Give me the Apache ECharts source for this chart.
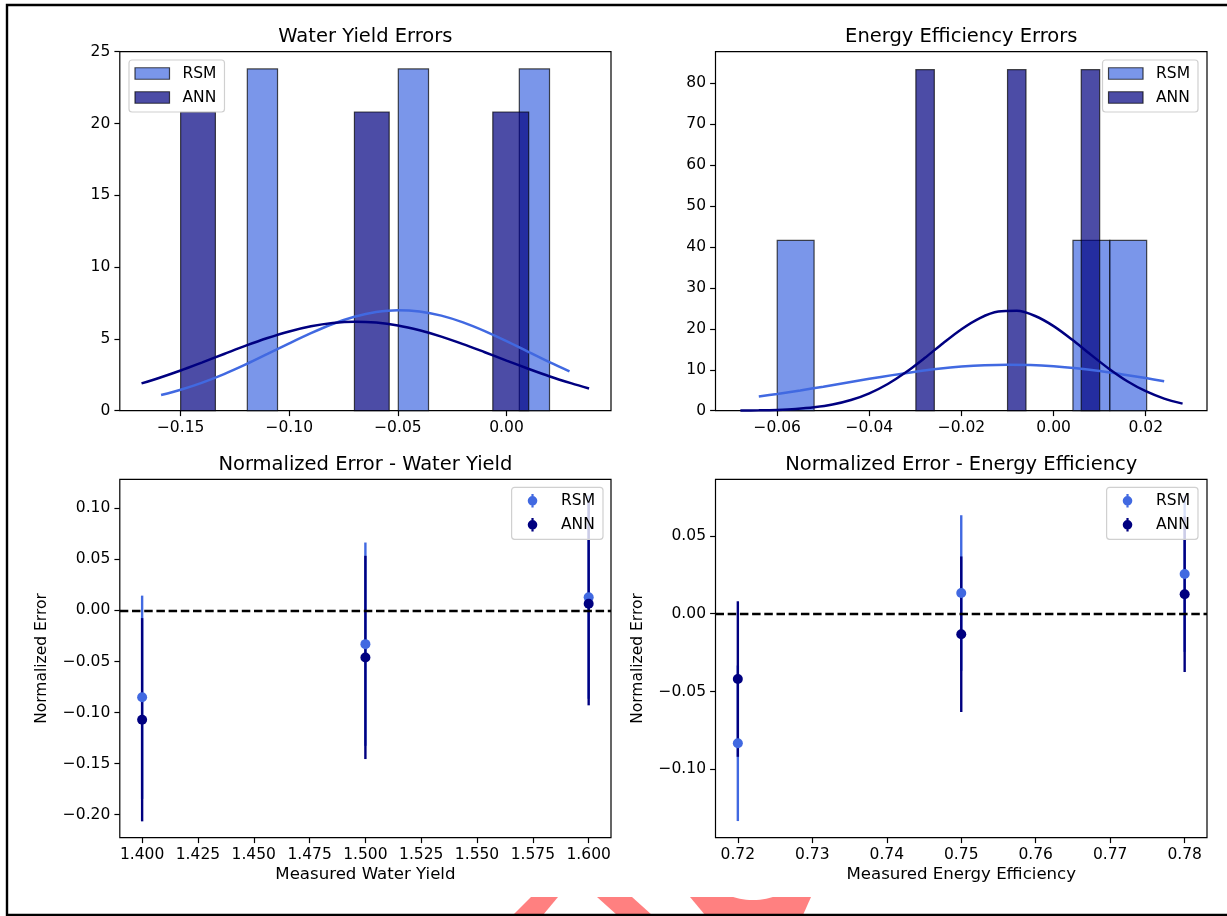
<!DOCTYPE html>
<html>
<head>
  <meta charset="utf-8">
  <title>Errors</title>
  <script src="https://cdn.jsdelivr.net/npm/echarts@6/dist/echarts.min.js"></script>
  <style>html, body { margin: 0; padding: 0; background: #fff; }</style>
</head>
<body>
  <div id="main" style="width:1227px;height:916px;"></div>
  <script type="text/javascript">
    // histogram bins: [left edge, right edge, density]
    var wyRsmBins = [[-0.1193, -0.1054, 23.8], [-0.0498, -0.0359, 23.8], [0.0059, 0.0198, 23.8]];
    var wyAnnBins = [[-0.1500, -0.1340, 20.8], [-0.0700, -0.0540, 20.8], [-0.0063, 0.0102, 20.8]];
    var eeRsmBins = [[-0.0600, -0.0520, 41.6], [0.0042, 0.0122, 41.6], [0.0122, 0.0202, 41.6]];
    var eeAnnBins = [[-0.0299, -0.0259, 83.3], [-0.0100, -0.0060, 83.3], [0.0060, 0.0100, 83.3]];

    // fitted curves: [x, density]
    var wyRsmCurve = [[-0.159, 1.09], [-0.15, 1.46], [-0.14, 1.96], [-0.13, 2.55], [-0.12, 3.22], [-0.11, 3.95],
      [-0.10, 4.69], [-0.09, 5.40], [-0.08, 6.04], [-0.07, 6.54], [-0.06, 6.87], [-0.05, 7.00], [-0.04, 6.91],
      [-0.03, 6.62], [-0.02, 6.15], [-0.01, 5.54], [0.00, 4.84], [0.01, 4.10], [0.02, 3.36], [0.029, 2.74]];
    var wyAnnCurve = [[-0.168, 1.90], [-0.16, 2.28], [-0.15, 2.80], [-0.14, 3.37], [-0.13, 3.95], [-0.12, 4.53],
      [-0.11, 5.06], [-0.10, 5.52], [-0.09, 5.88], [-0.08, 6.11], [-0.07, 6.20], [-0.06, 6.14], [-0.05, 5.94],
      [-0.04, 5.60], [-0.03, 5.16], [-0.02, 4.64], [-0.01, 4.07], [0.00, 3.49], [0.01, 2.92], [0.02, 2.38],
      [0.03, 1.90], [0.038, 1.55]];
    var eeRsmCurve = [[-0.064, 3.46], [-0.06, 4.09], [-0.055, 4.95], [-0.05, 5.87], [-0.045, 6.82], [-0.04, 7.78],
      [-0.035, 8.69], [-0.03, 9.52], [-0.025, 10.23], [-0.02, 10.77], [-0.015, 11.12], [-0.01, 11.25],
      [-0.005, 11.16], [0.0, 10.85], [0.005, 10.35], [0.01, 9.68], [0.015, 8.87], [0.02, 7.97], [0.024, 7.21]];
    var eeAnnCurve = [[-0.068, 0.04], [-0.064, 0.09], [-0.06, 0.20], [-0.056, 0.42], [-0.052, 0.82], [-0.048, 1.50],
      [-0.044, 2.60], [-0.04, 4.25], [-0.036, 6.53], [-0.032, 9.44], [-0.028, 12.86], [-0.024, 16.49],
      [-0.02, 19.91], [-0.016, 22.63], [-0.012, 24.21], [-0.008, 24.40], [-0.004, 23.14],
      [0.0, 20.67], [0.004, 17.38], [0.008, 13.76], [0.012, 10.26], [0.016, 7.20], [0.02, 4.76], [0.024, 2.96],
      [0.028, 1.73]];

    // normalized errors
    var wyMeasured = [1.4, 1.5, 1.6];
    var wyRsmErr = [-0.085, -0.033, 0.013];
    var wyAnnErr = [-0.107, -0.046, 0.0066];
    var wySpread = [0.0995, 0.0995, 0.0995];
    var eeMeasured = [0.72, 0.75, 0.78];
    var eeRsmErr = [-0.0833, 0.0133, 0.0255];
    var eeAnnErr = [-0.042, -0.0132, 0.0125];
    var eeSpread = [0.05, 0.05, 0.05];

    // tick labels
    var wyHistXTicks = [-0.15, -0.10, -0.05, 0.00];
    var wyHistYTicks = [0, 5, 10, 15, 20, 25];
    var eeHistXTicks = [-0.06, -0.04, -0.02, 0.00, 0.02];
    var eeHistYTicks = [0, 10, 20, 30, 40, 50, 60, 70, 80];
    var wyErrXTicks = [1.400, 1.425, 1.450, 1.475, 1.500, 1.525, 1.550, 1.575, 1.600];
    var wyErrYTicks = [-0.20, -0.15, -0.10, -0.05, 0.00, 0.05, 0.10];
    var eeErrXTicks = [0.72, 0.73, 0.74, 0.75, 0.76, 0.77, 0.78];
    var eeErrYTicks = [-0.10, -0.05, 0.00, 0.05];

    var FONT = 'DejaVu Sans';
    var RSM = 'royalblue', ANN = 'navy';

    function zipPts(xs, ys, es) {
      return xs.map(function (x, i) { return es ? [x, ys[i], es[i]] : [x, ys[i]]; });
    }

    function fmt(d) {
      return function (v) { return v.toFixed(d).replace('-', '\u2212'); };
    }

    function axis(grid, min, max, ticks, digits, extra) {
      var a = {
        type: 'value', gridIndex: grid, min: min, max: max,
        axisLine: { show: false, onZero: false },
        splitLine: { show: false },
        axisTick: { show: true, customValues: ticks, length: 5.4, lineStyle: { color: '#000', width: 1.2 } },
        axisLabel: { customValues: ticks, formatter: fmt(digits), color: '#000', fontSize: 15.5, fontFamily: FONT, margin: 9.5 },
        nameTextStyle: { color: '#000', fontSize: 15.5, fontFamily: FONT }
      };
      for (var k in extra) a[k] = extra[k];
      return a;
    }

    function barItem(color) {
      return function (params, api) {
        var p0 = api.coord([api.value(0), api.value(2)]);
        var p1 = api.coord([api.value(1), 0]);
        return {
          type: 'rect',
          shape: { x: p0[0], y: p0[1], width: p1[0] - p0[0], height: p1[1] - p0[1] },
          style: { fill: color, stroke: '#000', lineWidth: 1.2, opacity: 0.7 }
        };
      };
    }

    function errItem(color) {
      return function (params, api) {
        var x = api.value(0), y = api.value(1), e = api.value(2);
        var a = api.coord([x, y - e]), b = api.coord([x, y + e]);
        return {
          type: 'line',
          shape: { x1: a[0], y1: a[1], x2: b[0], y2: b[1] },
          style: { stroke: color, lineWidth: 2.4 }
        };
      };
    }

    function histSeries(name, color, bins, idx, z) {
      return {
        name: name, type: 'custom', xAxisIndex: idx, yAxisIndex: idx, z: z,
        itemStyle: { color: color, opacity: 0.7, borderColor: '#000', borderWidth: 1.2 },
        encode: { x: [0, 1], y: 2 },
        renderItem: barItem(color), data: bins
      };
    }

    function curveSeries(name, color, pts, idx) {
      return {
        name: name, type: 'line', xAxisIndex: idx, yAxisIndex: idx, z: 5,
        showSymbol: false, smooth: 0.3, silent: true,
        lineStyle: { color: color, width: 2.5 }, itemStyle: { color: color },
        data: pts
      };
    }

    function errSeries(name, color, pts, idx) {
      return {
        name: name, type: 'custom', xAxisIndex: idx, yAxisIndex: idx, z: 3,
        itemStyle: { color: color },
        encode: { x: 0, y: 1 },
        renderItem: errItem(color), data: pts
      };
    }

    function dotSeries(name, color, pts, idx, z, zeroLine) {
      var s = {
        name: name, type: 'scatter', xAxisIndex: idx, yAxisIndex: idx, z: z,
        symbol: 'circle', symbolSize: 10, itemStyle: { color: color, opacity: 1 },
        data: pts
      };
      if (zeroLine) {
        s.markLine = {
          silent: true, symbol: 'none', label: { show: false },
          lineStyle: { color: '#000', type: [8.5, 3.7], width: 2.3 },
          data: [{ yAxis: 0 }]
        };
      }
      return s;
    }

    var errIcon = 'path://M0,0 L0.01,0 Z M31,14 L30.99,14 Z M14.4,0.3 H16.6 V13.7 H14.4 Z ' +
      'M10.7,7 A4.8,4.8 0 1,1 20.3,7 A4.8,4.8 0 1,1 10.7,7 Z';

    function legend(pos, names, bottomStyle) {
      var l = {
        orient: 'vertical', selectedMode: false,
        itemWidth: bottomStyle ? 31 : 34.5, itemHeight: bottomStyle ? 14 : 11.5, itemGap: 8,
        padding: [5.5, 8, 6.5, 5.4],
        backgroundColor: 'rgba(255,255,255,0.8)', borderColor: '#d0d0d0', borderWidth: 1.2, borderRadius: 3,
        textStyle: { color: '#000', fontSize: 15.5, fontFamily: FONT, padding: [0, 0, 0, 8] },
        formatter: function (n) { return n.trim(); },
        data: names.map(function (n, i) {
          var c = i === 0 ? RSM : ANN;
          return bottomStyle
            ? { name: n, icon: errIcon, itemStyle: { color: c, borderWidth: 0 } }
            : { name: n, icon: 'rect', itemStyle: { color: c, opacity: 0.7, borderColor: '#000', borderWidth: 1.2 } };
        })
      };
      for (var k in pos) l[k] = pos[k];
      return l;
    }

    function title(text, cx, top) {
      return {
        text: text, left: cx, top: top, textAlign: 'center', padding: 0,
        textStyle: { color: '#000', fontSize: 19.5, fontWeight: 'normal', fontFamily: FONT }
      };
    }

    var gridBase = { show: true, borderColor: '#000', borderWidth: 1.2, backgroundColor: 'transparent', containLabel: false, outerBoundsMode: 'none' };
    function grid(l, t, w, h) {
      var g = { left: l, top: t, width: w, height: h };
      for (var k in gridBase) g[k] = gridBase[k];
      return g;
    }

    var xNameStyle = { color: '#000', fontSize: 16.6, fontFamily: FONT };

    var myChart = echarts.init(document.getElementById('main'), null, { renderer: 'canvas' });

    var option = {
      animation: false,
      backgroundColor: '#fff',
      title: [
        title('Water Yield Errors', 365.4, 27),
        title('Energy Efficiency Errors', 961.2, 27),
        title('Normalized Error - Water Yield', 365.4, 454.5),
        title('Normalized Error - Energy Efficiency', 961.2, 454.5)
      ],
      grid: [
        grid(119.8, 51.7, 491.2, 359),
        grid(715.5, 51.7, 491.5, 359),
        grid(119.8, 479.3, 491.2, 358.4),
        grid(715.5, 479.3, 491.5, 358.4)
      ],
      xAxis: [
        axis(0, -0.178, 0.0481, wyHistXTicks, 2),
        axis(1, -0.0734, 0.0333, eeHistXTicks, 2),
        axis(2, 1.39, 1.61, wyErrXTicks, 3, { name: 'Measured Water Yield', nameLocation: 'middle', nameGap: 28, nameTextStyle: xNameStyle }),
        axis(3, 0.717, 0.783, eeErrXTicks, 2, { name: 'Measured Energy Efficiency', nameLocation: 'middle', nameGap: 28, nameTextStyle: xNameStyle })
      ],
      yAxis: [
        axis(0, 0, 25, wyHistYTicks, 0),
        axis(1, 0, 87.7, eeHistYTicks, 0),
        axis(2, -0.2225, 0.1284, wyErrYTicks, 2, { name: 'Normalized Error', nameLocation: 'middle', nameRotate: 90, nameGap: 70 }),
        axis(3, -0.144, 0.0864, eeErrYTicks, 2, { name: 'Normalized Error', nameLocation: 'middle', nameRotate: 90, nameGap: 70 })
      ],
      legend: [
        legend({ left: 129, top: 60 }, ['RSM', 'ANN'], false),
        legend({ right: 29, top: 60 }, ['RSM', 'ANN'], false),
        legend({ right: 624, top: 487.3 }, ['RSM ', 'ANN '], true),
        legend({ right: 29, top: 487.3 }, ['RSM ', 'ANN '], true)
      ],
      series: [
        histSeries('RSM', RSM, wyRsmBins, 0, 2),
        histSeries('ANN', ANN, wyAnnBins, 0, 3),
        curveSeries('RSM fit', RSM, wyRsmCurve, 0),
        curveSeries('ANN fit', ANN, wyAnnCurve, 0),

        histSeries('RSM', RSM, eeRsmBins, 1, 2),
        histSeries('ANN', ANN, eeAnnBins, 1, 3),
        curveSeries('RSM fit', RSM, eeRsmCurve, 1),
        curveSeries('ANN fit', ANN, eeAnnCurve, 1),

        errSeries('RSM ', RSM, zipPts(wyMeasured, wyRsmErr, wySpread), 2),
        errSeries('ANN ', ANN, zipPts(wyMeasured, wyAnnErr, wySpread), 2),
        dotSeries('wy rsm', RSM, zipPts(wyMeasured, wyRsmErr), 2, 6, false),
        dotSeries('wy ann', ANN, zipPts(wyMeasured, wyAnnErr), 2, 7, true),

        errSeries('RSM ', RSM, zipPts(eeMeasured, eeRsmErr, eeSpread), 3),
        errSeries('ANN ', ANN, zipPts(eeMeasured, eeAnnErr, eeSpread), 3),
        dotSeries('ee rsm', RSM, zipPts(eeMeasured, eeRsmErr), 3, 6, false),
        dotSeries('ee ann', ANN, zipPts(eeMeasured, eeAnnErr), 3, 7, true)
      ],
      graphic: [
        // figure frame
        { type: 'rect', shape: { x: 7, y: 5, width: 1240, height: 910 }, style: { fill: null, stroke: '#000', lineWidth: 2.4 }, z: 100 },
        // watermark fragments at the lower edge
        { type: 'polygon', shape: { points: [[513, 915], [531, 897], [558, 897], [543, 915]] }, style: { fill: '#ff8080' }, z: 90 },
        { type: 'polygon', shape: { points: [[597, 897], [632, 897], [652, 915], [617, 915]] }, style: { fill: '#ff8080' }, z: 90 },
        { type: 'polygon', shape: { points: [[690, 897], [811, 897], [803, 915], [705, 915]] }, style: { fill: '#ff8080' }, z: 90 },
        { type: 'ellipse', shape: { cx: 753, cy: 884, rx: 34, ry: 16 }, style: { fill: '#fff' }, z: 91 }
      ]
    };

    myChart.setOption(option);
  </script>
</body>
</html>
